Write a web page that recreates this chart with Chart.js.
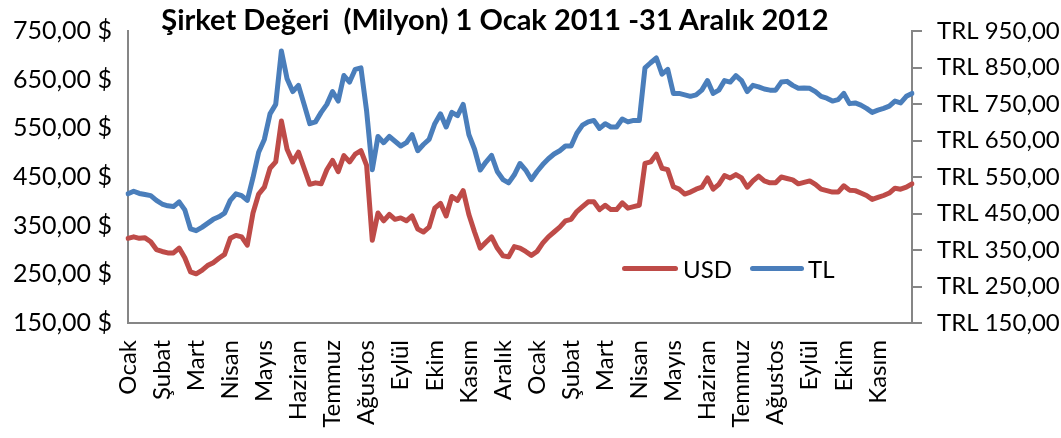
<!DOCTYPE html>
<html lang="tr">
<head>
<meta charset="utf-8">
<title>Şirket Değeri</title>
<script src="https://cdn.jsdelivr.net/npm/chart.js@4.4.1/dist/chart.umd.min.js"></script>
<style>
  body { margin: 0; background: #fff; }
  #kap { position: relative; width: 1061px; height: 438px; font-family: Lato, sans-serif; color: #000; }
  #baslik { position: absolute; left: 0; width: 990px; top: 1px; text-align: center; font-weight: bold; font-size: 29px; white-space: pre; }
  .lj-cizgi { position: absolute; height: 5px; border-radius: 3px; top: 266px; }
  .lj-yazi { position: absolute; top: 254px; font-size: 24px; }
</style>
</head>
<body>
<div id="kap">
  <canvas id="grafik"></canvas>
  <div id="baslik">Şirket Değeri  (Milyon) 1 Ocak 2011 -31 Aralık 2012</div>
  <span class="lj-cizgi" style="left:622px;width:56px;background:#BE4B48"></span>
  <span class="lj-yazi" style="left:683px">USD</span>
  <span class="lj-cizgi" style="left:750px;width:54px;background:#4A7EBB"></span>
  <span class="lj-yazi" style="left:808px">TL</span>
</div>
<script>
// ── Ay etiketleri (her 6 noktada bir) ─────────────────────────────────────────
const aylar = ["Ocak","Şubat","Mart","Nisan","Mayıs","Haziran","Temmuz","Ağustos","Eylül","Ekim","Kasım","Aralık",
               "Ocak","Şubat","Mart","Nisan","Mayıs","Haziran","Temmuz","Ağustos","Eylül","Ekim","Kasım"];
const adim = 6;

// ── Şirket değeri, USD (milyon) ───────────────────────────────────────────────
const usd = [
  324, 327, 324, 325, 317, 301, 297, 294, 294, 304, 284, 255, 251, 258, 268, 274, 283, 291, 324, 330,
  327, 310, 376, 415, 429, 468, 481, 565,
  507, 481, 501, 468, 435, 438, 436, 465, 484, 461, 494, 481, 497, 504, 474, 320, 376, 360, 373, 363,
  366, 360, 370, 343, 337, 347, 386, 396, 370,
  410, 402, 422, 373, 337, 304, 316, 327, 304, 288, 286, 307, 304, 297, 289, 297, 314, 327, 337, 347,
  360, 363, 379, 389, 399, 399, 383, 392,
  383, 383, 397, 386, 389, 392, 478, 481, 497, 468, 465, 430, 425, 415, 419, 425, 429, 448, 425, 435,
  453, 448, 455, 448, 429, 442, 452, 442,
  438, 438, 450, 447, 444, 436, 439, 442, 435, 425, 422, 419, 419, 432, 423, 422, 417, 412, 404, 408,
  412, 417, 427, 425, 429, 436
];

// ── Şirket değeri, TL (milyon) ────────────────────────────────────────────────
const tl = [
  504, 511, 505, 502, 499, 486, 476, 471, 469, 482, 460, 408, 403, 412, 423, 434, 441, 451, 486, 504,
  499, 486, 548, 618, 653, 723, 749, 895,
  819, 784, 801, 749, 696, 701, 727, 749, 784, 758, 828, 810, 845, 849, 731, 570, 661, 644, 661, 648,
  635, 644, 666, 622, 639, 653, 696, 723, 687,
  727, 718, 749, 666, 626, 569, 591, 609, 565, 543, 534, 556, 587, 569, 543, 565, 584, 600, 613, 622,
  635, 635, 670, 692, 701, 705, 683, 696,
  687, 687, 709, 701, 705, 705, 849, 863, 876, 832, 845, 779, 779, 775, 771, 775, 788, 814, 779, 788,
  814, 810, 828, 814, 784, 801, 797, 791,
  788, 788, 810, 812, 801, 793, 794, 793, 784, 771, 766, 758, 762, 779, 751, 753, 747, 738, 727, 733,
  738, 744, 758, 753, 771, 779
];

const etiketler = usd.map((_, i) => i % adim === 0 ? (aylar[i / adim] || "") : "");
const virgul = v => v.toFixed(2).replace(".", ",");
const gri = "#868686";
const yazi = { family: "Lato", size: 24 };

new Chart(document.getElementById("grafik"), {
  type: "line",
  data: {
    labels: etiketler,
    datasets: [
      { label: "USD", data: usd, yAxisID: "y", borderColor: "#BE4B48", borderWidth: 5,
        pointRadius: 0, tension: 0, borderJoinStyle: "round", borderCapStyle: "round" },
      { label: "TL", data: tl, yAxisID: "y1", borderColor: "#4A7EBB", borderWidth: 5,
        pointRadius: 0, tension: 0, borderJoinStyle: "round", borderCapStyle: "round" }
    ]
  },
  options: {
    responsive: true,
    maintainAspectRatio: false,
    animation: false,
    layout: { padding: { top: 18, left: 0, right: 0, bottom: 0 } },
    plugins: { legend: { display: false }, tooltip: { enabled: false } },
    scales: {
      x: {
        grid: { display: false, drawTicks: false },
        border: { display: true, color: gri, width: 2 },
        ticks: { autoSkip: false, minRotation: 90, maxRotation: 90, padding: 17, color: "#000", font: yazi },
        afterFit: s => { s.height = 115; }
      },
      y: {
        position: "left", min: 150, max: 750,
        grid: { display: false, drawTicks: false },
        border: { display: true, color: gri, width: 2 },
        ticks: { stepSize: 100, padding: 16, color: "#000", font: { family: "Lato", size: 25 }, callback: v => virgul(v) + " $" },
        afterFit: s => { s.width = 128; }
      },
      y1: {
        position: "right", min: 150, max: 950,
        grid: { drawOnChartArea: false, drawTicks: true, tickLength: 10, color: gri, lineWidth: 2 },
        border: { display: true, color: gri, width: 2 },
        ticks: { stepSize: 100, padding: 15, color: "#000", font: yazi, callback: v => "TRL " + virgul(v) },
        afterFit: s => { s.width = 149; }
      }
    }
  }
});
</script>
</body>
</html>
